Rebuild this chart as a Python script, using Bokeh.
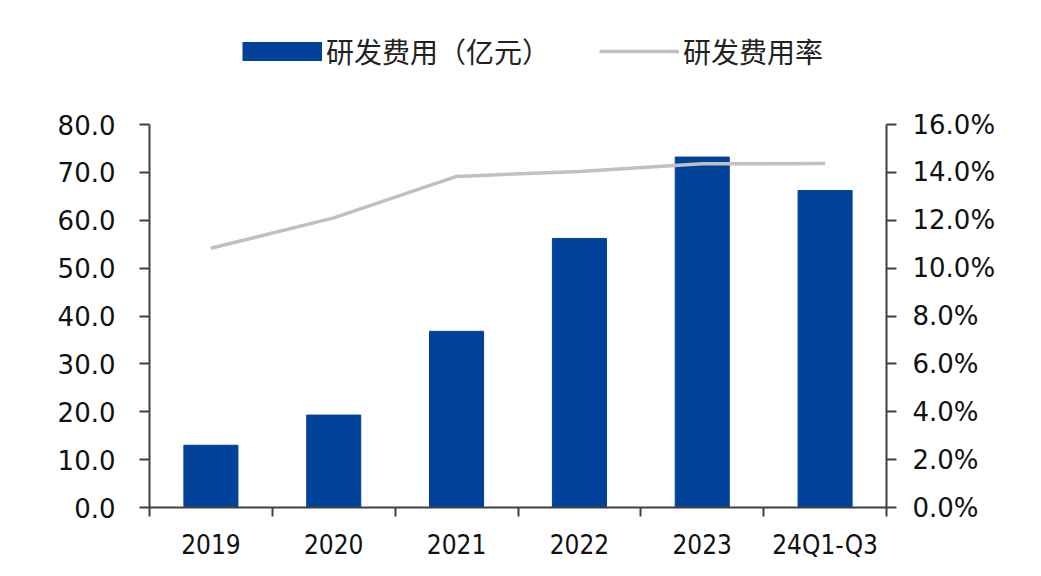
from bokeh.plotting import figure
from bokeh.models import (Range1d, LinearAxis, FixedTicker, NumeralTickFormatter,
                          Legend, LegendItem, ColumnDataSource)
from bokeh.embed import file_html
from bokeh.resources import INLINE

categories = ["2019", "2020", "2021", "2022", "2023", "24Q1-Q3"]
rd_expense = [13.0, 19.3, 36.8, 56.2, 73.2, 66.2]
rd_ratio = [0.1083, 0.1210, 0.1383, 0.1404, 0.1436, 0.1437]
left_ticks = [0, 10, 20, 30, 40, 50, 60, 70, 80]
right_ticks = [0.0, 0.02, 0.04, 0.06, 0.08, 0.10, 0.12, 0.14, 0.16]
left_max = 80
right_max = 0.16

bar_color = "#00419A"
line_color = "#C0C0C0"

# layout (pixels): axes span from y=124 (top tick) to y=507 (zero)
frame_top, axis_top, axis_bottom = 20, 124, 507
stretch = (axis_bottom - frame_top) / (axis_bottom - axis_top)

xs = [i + 0.5 for i in range(len(categories))]
src = ColumnDataSource(dict(x=xs, exp=rd_expense, ratio=rd_ratio, cat=categories))

p = figure(width=1041, height=576, output_backend="svg", toolbar_location=None,
           x_range=Range1d(0, len(categories)), y_range=Range1d(0, left_max * stretch),
           min_border_left=149, min_border_right=155, min_border_bottom=576 - axis_bottom,
           min_border_top=frame_top)
p.extra_y_ranges = {"pct": Range1d(0, right_max * stretch)}
p.outline_line_color = None
p.grid.visible = False
p.background_fill_color = "white"
p.border_fill_color = "white"

bars = p.vbar(x="x", top="exp", width=0.44, source=src, color=bar_color)
line = p.line(x="x", y="ratio", source=src, y_range_name="pct",
              line_color=line_color, line_width=3.5)
# legend swatch proxy for the bar series (a thick butt-capped stroke = solid block);
# its single point is NaN so nothing is drawn in the plot itself
bar_swatch = p.line(x=[xs[0]], y=[float("nan")], line_color=bar_color,
                    line_width=19, line_cap="butt")

axis_color = "#404040"

# x axis
xa = p.xaxis[0]
xa.ticker = FixedTicker(ticks=xs, minor_ticks=list(range(len(categories) + 1)))
xa.major_label_overrides = {x: c for x, c in zip(xs, categories)}
xa.major_tick_out = 0
xa.major_tick_in = 0
xa.minor_tick_out = 9
xa.minor_tick_in = 0
xa.minor_tick_line_color = axis_color
xa.minor_tick_line_width = 2
xa.axis_line_color = axis_color
xa.axis_line_width = 2
xa.major_label_text_font = "DejaVu Sans Condensed"
xa.major_label_text_font_size = "26px"
xa.major_label_text_color = "#111111"
xa.major_label_standoff = 13

# left y axis
ya = p.yaxis[0]
ya.ticker = FixedTicker(ticks=left_ticks)
ya.bounds = (0, left_max)
ya.formatter = NumeralTickFormatter(format="0.0")
ya.major_tick_out = 10
ya.major_tick_in = 0
ya.minor_tick_out = 0
ya.minor_tick_in = 0
ya.major_tick_line_color = axis_color
ya.major_tick_line_width = 2
ya.axis_line_color = axis_color
ya.axis_line_width = 2
ya.major_label_text_font = "DejaVu Sans"
ya.major_label_text_font_size = "26px"
ya.major_label_text_color = "#111111"
ya.major_label_standoff = 24

# right y axis
ra = LinearAxis(y_range_name="pct", ticker=FixedTicker(ticks=right_ticks),
                formatter=NumeralTickFormatter(format="0.0%"), bounds=(0, right_max))
ra.major_tick_out = 10
ra.major_tick_in = 0
ra.minor_tick_out = 0
ra.minor_tick_in = 0
ra.major_tick_line_color = axis_color
ra.major_tick_line_width = 2
ra.axis_line_color = axis_color
ra.axis_line_width = 2
ra.major_label_text_font = "DejaVu Sans"
ra.major_label_text_font_size = "26px"
ra.major_label_text_color = "#111111"
ra.major_label_standoff = 16
p.add_layout(ra, "right")

legend = Legend(items=[LegendItem(label="研发费用（亿元）", renderers=[bar_swatch]),
                       LegendItem(label="研发费用率", renderers=[line])],
                orientation="horizontal", location=(93, 436),
                glyph_width=80, glyph_height=20, label_standoff=4, spacing=49,
                label_text_font="Noto Sans CJK SC", label_text_font_size="28px",
                label_text_color="#222222",
                border_line_color=None, background_fill_alpha=0,
                padding=0, margin=0)
p.add_layout(legend, "center")

open("out.html", "w").write(file_html(p, INLINE))
